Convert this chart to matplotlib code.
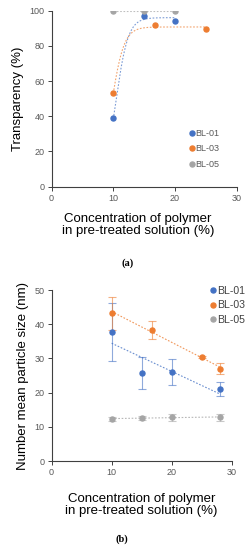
import numpy as np
import matplotlib
matplotlib.use("Agg")
import matplotlib.pyplot as plt

plt.rcParams["font.family"] = ["Liberation Sans", "DejaVu Sans"]

# ---------------------------------------------------------------------------
# Data
# ---------------------------------------------------------------------------
SERIES = ["BL-01", "BL-03", "BL-05"]
COLORS = ["#4472C4", "#ED7D31", "#A5A5A5"]

# (a) transparency
trans_x = [[10, 15, 20], [10, 16.7, 25], [10, 15, 20]]
trans_y = [[39, 97, 94], [53, 92, 89.5], [100, 100, 100]]

# (b) number mean particle size
size_x = [[10, 15, 20, 28], [10, 16.7, 25, 28], [10, 15, 20, 28]]
size_y = [[37.8, 25.8, 26.0, 21.0], [43.2, 38.4, 30.5, 27.0], [12.3, 12.6, 12.8, 12.8]]
size_err = [[8.5, 4.6, 3.9, 2.1], [4.8, 2.6, 0.3, 1.7], [0.5, 0.5, 1.0, 1.0]]

XLABEL = "Concentration of polymer\nin pre-treated solution (%)"
TICK_COLOR = "#595959"
DOTTED = (0, (1.5, 1.5))


def logistic_trend(x, y):
    """Least-squares logistic trendline y = b / (1 + exp(-k (x - x0))), k <= 1."""
    x = np.asarray(x, float)
    y = np.asarray(y, float)
    best = None
    for k in np.linspace(0.2, 1.0, 81):
        for x0 in np.linspace(6, 16, 201):
            s = 1 / (1 + np.exp(-k * (x - x0)))
            b = np.dot(s, y) / np.dot(s, s)
            err = np.sum((b * s - y) ** 2)
            if best is None or err < best[0]:
                best = (err, k, x0, b)
    _, k, x0, b = best
    xs = np.linspace(x.min(), x.max(), 200)
    return xs, b / (1 + np.exp(-k * (xs - x0)))


def style_axes(ax, label_x, label_y):
    for side in ("top", "right"):
        ax.spines[side].set_visible(False)
    for side in ("left", "bottom"):
        ax.spines[side].set_color("#404040")
        ax.spines[side].set_linewidth(0.8)
    ax.tick_params(colors="#404040", labelcolor=TICK_COLOR, labelsize=6.5,
                   length=3, width=0.7, pad=2)
    ax.set_xlim(0, 30)
    ax.set_xticks([0, 10, 20, 30])
    ax.set_xlabel(XLABEL, fontsize=9.5, linespacing=1.0)
    ax.xaxis.set_label_coords(label_x, label_y, transform=ax.transAxes)
    ax.xaxis.label.set_va("top")


fig = plt.figure(figsize=(2.47, 5.5), dpi=100)

# ---------------------------------------------------------------------------
# (a)
# ---------------------------------------------------------------------------
ax1 = fig.add_axes([0.209, 0.6606, 0.749, 0.3199])
for name, c, xs, ys in zip(SERIES, COLORS, trans_x, trans_y):
    if len(set(ys)) == 1:
        tx, ty = [min(xs), max(xs)], [ys[0], ys[0]]
    else:
        tx, ty = logistic_trend(xs, ys)
    ax1.plot(tx, ty, ls=DOTTED, lw=0.8, color=c, alpha=0.7)
    ax1.plot(xs, ys, "o", color=c, ms=3.6, label=name, zorder=3)
style_axes(ax1, 0.466, -0.15)
ax1.set_ylim(0, 100)
ax1.set_yticks(range(0, 101, 20))
ax1.set_ylabel("Transparency (%)", fontsize=9.5, labelpad=4)
ax1.legend(loc="upper left", bbox_to_anchor=(0.73, 0.35), frameon=False,
           fontsize=6.5, handlelength=0.4, handletextpad=0.2,
           labelspacing=0.75, labelcolor=TICK_COLOR, borderaxespad=0)

# ---------------------------------------------------------------------------
# (b)
# ---------------------------------------------------------------------------
ax2 = fig.add_axes([0.209, 0.1618, 0.729, 0.3109])
for name, c, xs, ys, es in zip(SERIES, COLORS, size_x, size_y, size_err):
    xs_a = np.asarray(xs, float)
    slope, icpt = np.polyfit(xs_a, ys, 1)
    tx = np.array([xs_a.min(), xs_a.max()])
    ax2.plot(tx, slope * tx + icpt, ls=DOTTED, lw=0.8, color=c, alpha=0.8)
    ax2.errorbar(xs, ys, yerr=es, fmt="none", ecolor=c, alpha=0.6,
                 elinewidth=0.8, capsize=3, capthick=0.8)
    ax2.plot(xs, ys, "o", color=c, ms=3.6, label=name, zorder=3)
style_axes(ax2, 0.5, -0.19)
ax2.set_ylim(0, 50)
ax2.set_yticks(range(0, 51, 10))
ax2.set_ylabel("Number mean particle size (nm)", fontsize=9.5, labelpad=4)
ax2.legend(loc="upper left", bbox_to_anchor=(0.86, 1.05), frameon=False,
           fontsize=7.6, handlelength=0.4, handletextpad=0.2,
           labelspacing=0.45, labelcolor="#404040", borderaxespad=0)

fig.text(128 / 247, 1 - 263 / 550, "(a)", ha="center", va="center",
         fontsize=7.5, family=["Liberation Serif", "DejaVu Serif"], weight="bold")
fig.text(122 / 247, 1 - 539 / 550, "(b)", ha="center", va="center",
         fontsize=7.5, family=["Liberation Serif", "DejaVu Serif"], weight="bold")

fig.savefig("out.png", dpi=100)
